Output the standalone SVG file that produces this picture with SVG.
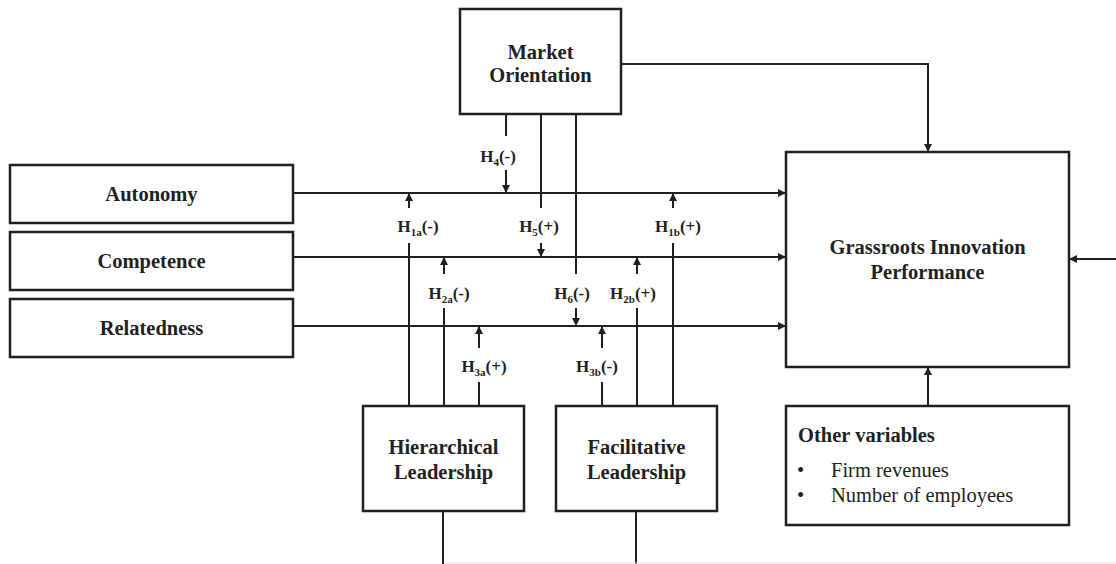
<svg xmlns="http://www.w3.org/2000/svg" width="1116" height="564" viewBox="0 0 1116 564">
<style>
.box{fill:#fff;stroke:#231f20;stroke-width:2.5}
.ln{fill:none;stroke:#231f20;stroke-width:2}
.t{font-family:"Liberation Serif","Times New Roman",serif;font-weight:bold;font-size:20.5px;fill:#231f20;text-anchor:middle}
.h{font-family:"Liberation Serif","Times New Roman",serif;font-weight:bold;font-size:17px;fill:#231f20;text-anchor:middle}
.r{font-family:"Liberation Serif","Times New Roman",serif;font-size:20.5px;fill:#231f20}
</style>
<defs>
<marker id="ah" viewBox="0 0 10 10" refX="10" refY="5" markerWidth="9" markerHeight="8" markerUnits="userSpaceOnUse" orient="auto">
<path d="M0,0 L10,5 L0,10 z" fill="#231f20"/>
</marker>
</defs>
<rect width="1116" height="564" fill="#fff"/>
<g id="connectors">
<line class="ln" x1="293" y1="193" x2="786" y2="193" marker-end="url(#ah)"/>
<line class="ln" x1="293" y1="257" x2="786" y2="257" marker-end="url(#ah)"/>
<line class="ln" x1="293" y1="326" x2="786" y2="326" marker-end="url(#ah)"/>
<polyline class="ln" points="621,64 928,64 928,152" marker-end="url(#ah)"/>
<line class="ln" x1="1116" y1="259" x2="1069" y2="259" marker-end="url(#ah)"/>
<line class="ln" x1="928" y1="406" x2="928" y2="367" marker-end="url(#ah)"/>
<line class="ln" x1="506" y1="114" x2="506" y2="136"/>
<line class="ln" x1="506" y1="170" x2="506" y2="193" marker-end="url(#ah)"/>
<line class="ln" x1="541" y1="114" x2="541" y2="208"/>
<line class="ln" x1="541" y1="243" x2="541" y2="257" marker-end="url(#ah)"/>
<line class="ln" x1="576" y1="114" x2="576" y2="274"/>
<line class="ln" x1="576" y1="308" x2="576" y2="326" marker-end="url(#ah)"/>
<line class="ln" x1="409" y1="406" x2="409" y2="243"/>
<line class="ln" x1="409" y1="208" x2="409" y2="193" marker-end="url(#ah)"/>
<line class="ln" x1="444" y1="406" x2="444" y2="308"/>
<line class="ln" x1="444" y1="274" x2="444" y2="257" marker-end="url(#ah)"/>
<line class="ln" x1="479" y1="406" x2="479" y2="382"/>
<line class="ln" x1="479" y1="348" x2="479" y2="326" marker-end="url(#ah)"/>
<line class="ln" x1="673" y1="406" x2="673" y2="243"/>
<line class="ln" x1="673" y1="208" x2="673" y2="193" marker-end="url(#ah)"/>
<line class="ln" x1="637" y1="406" x2="637" y2="308"/>
<line class="ln" x1="637" y1="274" x2="637" y2="257" marker-end="url(#ah)"/>
<line class="ln" x1="602" y1="406" x2="602" y2="382"/>
<line class="ln" x1="602" y1="348" x2="602" y2="326" marker-end="url(#ah)"/>
<line class="ln" x1="443" y1="511" x2="443" y2="564"/>
<line class="ln" x1="636" y1="511" x2="636" y2="564"/>
<line x1="444" y1="563" x2="1116" y2="563" stroke="#e4e4e4" stroke-width="1"/>
</g>
<g id="labels">
<text class="h" x="498" y="162">H<tspan font-size="11" dy="4">4</tspan><tspan dy="-4">(-)</tspan></text>
<text class="h" x="418" y="232">H<tspan font-size="11" dy="4">1a</tspan><tspan dy="-4">(-)</tspan></text>
<text class="h" x="539" y="232">H<tspan font-size="11" dy="4">5</tspan><tspan dy="-4">(+)</tspan></text>
<text class="h" x="678" y="232">H<tspan font-size="11" dy="4">1b</tspan><tspan dy="-4">(+)</tspan></text>
<text class="h" x="449" y="299">H<tspan font-size="11" dy="4">2a</tspan><tspan dy="-4">(-)</tspan></text>
<text class="h" x="572" y="299">H<tspan font-size="11" dy="4">6</tspan><tspan dy="-4">(-)</tspan></text>
<text class="h" x="633" y="299">H<tspan font-size="11" dy="4">2b</tspan><tspan dy="-4">(+)</tspan></text>
<text class="h" x="484" y="372">H<tspan font-size="11" dy="4">3a</tspan><tspan dy="-4">(+)</tspan></text>
<text class="h" x="597" y="372">H<tspan font-size="11" dy="4">3b</tspan><tspan dy="-4">(-)</tspan></text>
</g>
<g id="market">
<rect class="box" x="460" y="9" width="161" height="105"/>
<text class="t" x="540.5" y="59">Market</text>
<text class="t" x="540.5" y="82">Orientation</text>
</g>
<g id="autonomy">
<rect class="box" x="10" y="165" width="283" height="58"/>
<text class="t" x="151.5" y="201">Autonomy</text>
</g>
<g id="competence">
<rect class="box" x="10" y="232" width="283" height="58"/>
<text class="t" x="151.5" y="268">Competence</text>
</g>
<g id="relatedness">
<rect class="box" x="10" y="299" width="283" height="58"/>
<text class="t" x="151.5" y="335">Relatedness</text>
</g>
<g id="gip">
<rect class="box" x="786" y="152" width="283" height="215"/>
<text class="t" x="927.5" y="254">Grassroots Innovation</text>
<text class="t" x="927.5" y="279">Performance</text>
</g>
<g id="hierarchical">
<rect class="box" x="363" y="406" width="161" height="105"/>
<text class="t" x="443.5" y="454">Hierarchical</text>
<text class="t" x="443.5" y="479">Leadership</text>
</g>
<g id="facilitative">
<rect class="box" x="556" y="406" width="161" height="105"/>
<text class="t" x="636.5" y="454">Facilitative</text>
<text class="t" x="636.5" y="479">Leadership</text>
</g>
<g id="other">
<rect class="box" x="786" y="406" width="283" height="119"/>
<text class="t" x="798" y="442" style="text-anchor:start">Other variables</text>
<text class="r" x="797" y="477">•</text>
<text class="r" x="831" y="477">Firm revenues</text>
<text class="r" x="797" y="502">•</text>
<text class="r" x="831" y="502">Number of employees</text>
</g>
</svg>
